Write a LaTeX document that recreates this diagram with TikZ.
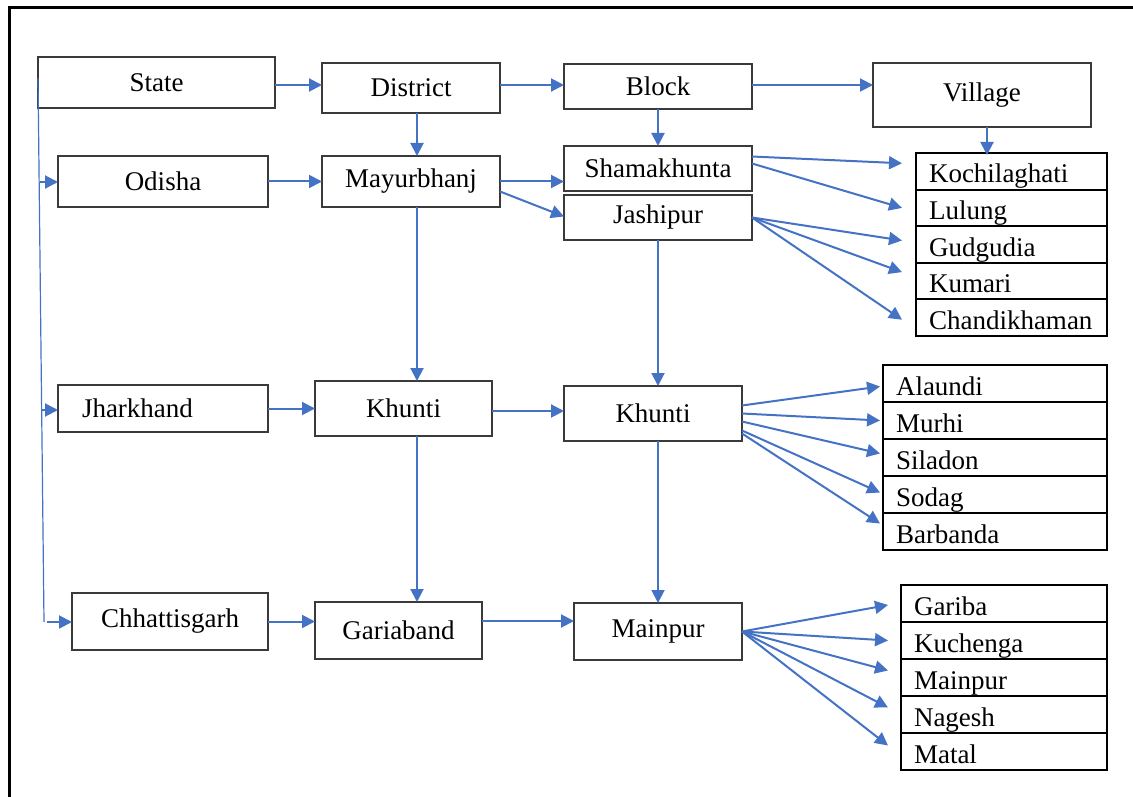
\documentclass[tikz,border=0pt]{standalone}
\usepackage{fontspec}
\setmainfont{Liberation Serif}
\usetikzlibrary{positioning,arrows.meta}

\definecolor{linkblue}{HTML}{4472C4}
\definecolor{boxgray}{HTML}{3A3A3A}

\tikzset{
  box/.style 2 args={draw=boxgray, line width=1.3pt, minimum width=#1, minimum height=#2,
    inner sep=0pt, outer sep=0pt},
  vbox/.style={draw=black, line width=2pt, text width=#1, align=left, inner xsep=13pt,
    inner ysep=0pt, minimum height=37pt, outer sep=0pt, text height=23pt, text depth=0pt},
  conn/.style={linkblue, line width=2pt, -{Triangle[length=13pt,width=13pt]}},
  trunk/.style={linkblue, line width=1.2pt},
}

\begin{document}
\begin{tikzpicture}[x=1pt,y=-1pt,font=\fontsize{27}{30}\selectfont]
\useasboundingbox (0,0) rectangle (1133,797);
% frame
\draw[line width=3pt] (1140,8) -- (9,8) -- (9,805);

% levels
\node[box={237}{51}] (state)    at (156.5,82.5) {State};
\node[box={178}{50}] (district) at (411,88)     {District};
\node[box={188}{45}] (block)    at (658,86.5)   {Block};
\node[box={218}{64}] (village)  at (982,95)     {Village};

% Odisha
\node[box={210}{51}] (odisha) at (163,181.5) {Odisha};
\node[box={178}{51}] (mayur)  at (411,181.5) {Mayurbhanj};
\node[box={188}{45}] (shama)  at (658,168.5) {Shamakhunta};
\node[box={188}{45}] (jashi)  at (658,217.5) {Jashipur};

% Jharkhand
\node[box={210}{47}, text width=162pt, inner xsep=24pt, align=left] (jhar) at (163,408.5) {Jharkhand};
\node[box={177}{55}] (khuntid) at (403.5,408.5) {Khunti};
\node[box={178}{55}] (khuntib) at (653,413.5)   {Khunti};

% Chhattisgarh
\node[box={196}{57}] (chhat)   at (170,621.5) {Chhattisgarh};
\node[box={167}{57}] (garia)   at (398.5,630.5) {Gariaband};
\node[box={168}{57}] (mainpur) at (658,631.5) {Mainpur};

% villages
\node[vbox=165pt, minimum height=36.6pt, anchor=north west] (kochi) at (916,153) {Kochilaghati};
\node[vbox=165pt, minimum height=36.6pt, below=0pt of kochi] (lulung) {Lulung};
\node[vbox=165pt, minimum height=36.6pt, below=0pt of lulung] (gudgu) {Gudgudia};
\node[vbox=165pt, minimum height=36.6pt, below=0pt of gudgu] (kumari) {Kumari};
\node[vbox=165pt, minimum height=36.6pt, below=0pt of kumari] (chandi) {Chandikhaman};

\node[vbox=198pt, anchor=north west] (alaundi) at (883,365) {Alaundi};
\node[vbox=198pt, below=0pt of alaundi] (murhi) {Murhi};
\node[vbox=198pt, below=0pt of murhi] (siladon) {Siladon};
\node[vbox=198pt, below=0pt of siladon] (sodag) {Sodag};
\node[vbox=198pt, below=0pt of sodag] (barbanda) {Barbanda};

\node[vbox=180pt, anchor=north west] (gariba) at (901,585) {Gariba};
\node[vbox=180pt, below=0pt of gariba] (kuchenga) {Kuchenga};
\node[vbox=180pt, below=0pt of kuchenga] (mainpurv) {Mainpur};
\node[vbox=180pt, below=0pt of mainpurv] (nagesh) {Nagesh};
\node[vbox=180pt, below=0pt of nagesh] (matal) {Matal};

% trunk on the left
\coordinate (trunktop) at (38,78);
\coordinate (trunkbot) at (44,622);
\coordinate (br1) at (39.5,182);
\coordinate (br2) at (42,410);
\coordinate (br3) at (47,622);
\draw[trunk] (trunktop) -- (trunkbot);
\draw[conn] (br1) -- (br1 -| odisha.west);
\draw[conn] (br2) -- (br2 -| jhar.west);
\draw[conn] (br3) -- (br3 -| chhat.west);

% top row
\draw[conn] ([yshift=-2.5pt]state.east) -- ([yshift=-2.5pt]state.east -| district.west);
\draw[conn] ([yshift=3pt]district.east) -- ([yshift=3pt]district.east -| block.west);
\draw[conn] ([yshift=1.5pt]block.east) -- ([yshift=1.5pt]block.east -| village.west);
\draw[conn] ([xshift=6pt]district.south) -- ([xshift=6pt]district.south |- mayur.north);
\draw[conn] (block.south) -- (shama.north);
\draw[conn] ([xshift=5pt]village.south) -- ([xshift=5pt,yshift=-2pt]village.south |- kochi.north);

% Odisha row
\draw[conn] (odisha.east) -- (mayur.west);
\draw[conn] (mayur.east) -- (mayur.east -| shama.west);
\draw[conn] ([yshift=-10pt]mayur.east) -- ([yshift=1pt]jashi.west);
\draw[conn] ([xshift=6pt]mayur.south) -- ([xshift=6pt]mayur.south |- khuntid.north);
\draw[conn] (jashi.south) -- (jashi.south |- khuntib.north);

\draw[conn] ([yshift=12pt]shama.east) -- ([xshift=-14pt,yshift=8pt]kochi.west);
\draw[conn] ([yshift=5pt]shama.east) -- ([xshift=-14pt]lulung.west);
\draw[conn] (jashi.east) -- ([xshift=-14pt,yshift=4pt]gudgu.west);
\draw[conn] (jashi.east) -- ([xshift=-14pt,yshift=9pt]kumari.west);
\draw[conn] (jashi.east) -- ([xshift=-14pt,yshift=-2pt]chandi.west);

% Jharkhand row
\draw[conn] (jhar.east) -- (khuntid.west);
\draw[conn] ([yshift=-2.5pt]khuntid.east) -- ([yshift=-2.5pt]khuntid.east -| khuntib.west);
\draw[conn] ([xshift=13.5pt]khuntid.south) -- ([xshift=13.5pt]khuntid.south |- garia.north);
\draw[conn] ([xshift=5pt]khuntib.south) -- ([xshift=5pt]khuntib.south |- mainpur.north);

\draw[conn] ([yshift=8pt]khuntib.east) -- ([xshift=-3pt,yshift=-3pt]alaundi.west);
\draw[conn] (khuntib.east) -- ([xshift=-3pt]murhi.west);
\draw[conn] ([yshift=-8pt]khuntib.east) -- ([xshift=-3pt,yshift=4pt]siladon.west);
\draw[conn] ([yshift=-17pt]khuntib.east) -- ([xshift=-3pt,yshift=2pt]sodag.west);
\draw[conn] ([yshift=-20pt]khuntib.east) -- ([xshift=-3pt,yshift=8pt]barbanda.west);

% Chhattisgarh row
\draw[conn] (chhat.east) -- (chhat.east -| garia.west);
\draw[conn] ([yshift=9.5pt]garia.east) -- ([yshift=9.5pt]garia.east -| mainpur.west);

\draw[conn] (mainpur.east) -- ([xshift=-13pt,yshift=-1.5pt]gariba.west);
\draw[conn] (mainpur.east) -- ([xshift=-13pt]kuchenga.west);
\draw[conn] (mainpur.east) -- ([xshift=-13pt,yshift=7pt]mainpurv.west);
\draw[conn] (mainpur.east) -- ([xshift=-13pt,yshift=7pt]nagesh.west);
\draw[conn] (mainpur.east) -- ([xshift=-13pt,yshift=6pt]matal.west);

\end{tikzpicture}
\end{document}
